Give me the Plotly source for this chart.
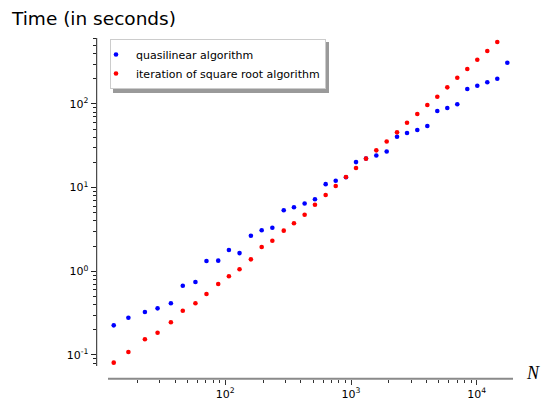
import plotly.graph_objects as go

# Problem size N (shared x values)
n_values = [13, 17, 23, 29, 37, 46, 58, 71, 88, 107, 130, 160, 195, 237, 292, 352,
            428, 517, 629, 756, 912, 1096, 1316, 1589, 1922, 2322, 2788, 3366, 4043,
            4853, 5828, 6998, 8405, 10090, 12120, 14550, 17480]

# Time in seconds
quasilinear_times = [0.226, 0.279, 0.326, 0.361, 0.415, 0.673, 0.745, 1.33, 1.34, 1.80,
                     1.65, 2.66, 3.09, 3.32, 5.36, 5.82, 6.46, 7.25, 11.0, 12.1, 13.3,
                     20.2, 22.3, 24.2, 27.0, 40.6, 45.0, 48.8, 54.5, 82.5, 89.6, 99.1,
                     151, 165, 181.5, 200.5, 311]
sqrt_iter_times = [0.0809, 0.1085, 0.154, 0.1846, 0.2458, 0.338, 0.415, 0.5355, 0.705,
                   0.874, 1.06, 1.39, 1.95, 2.32, 3.06, 3.75, 4.75, 6.25, 8.16, 10.46,
                   13.4, 17.2, 22.2, 27.9, 35.6, 45.8, 59.7, 75.9, 97.2, 122, 158, 206,
                   262, 337, 430, 550]

series_names = ["quasilinear algorithm", "iteration of square root algorithm"]

x_major = [100, 1000, 10000]
x_major_text = ["10<sup>2</sup>", "10<sup>3</sup>", "10<sup>4</sup>"]
x_minor = [m * d for d in (10, 100, 1000) for m in range(2, 10)]

y_major = [0.1, 1, 10, 100]
y_major_text = ["10<sup>-1</sup>", "10<sup>0</sup>", "10<sup>1</sup>", "10<sup>2</sup>"]
y_minor = [0.08, 0.09] + [m * d for d in (0.1, 1, 10) for m in range(2, 10)] + [200, 300, 400, 500, 600]

W, H = 547, 402
FONT = "DejaVu Sans"

# plot area (pixels)
PL, PR, PT, PB = 96.7, 513.0, 38.0, 378.7
XL_START = 108.0   # x-axis line starts here
YL_END = 366.0     # y-axis line ends here

fig = go.Figure()
fig.add_trace(go.Scatter(x=n_values, y=quasilinear_times, mode="markers",
                         name=series_names[0], cliponaxis=False,
                         marker=dict(color="#0000ff", size=4.6)))
fig.add_trace(go.Scatter(x=n_values[:len(sqrt_iter_times)], y=sqrt_iter_times,
                         mode="markers", name=series_names[1], cliponaxis=False,
                         marker=dict(color="#ff0000", size=4.6)))

LEG_L, LEG_T, LEG_W, LEG_H = 110, 39, 216, 51

fig.update_layout(
    width=W, height=H, autosize=False,
    margin=dict(l=0, r=0, t=0, b=0),
    paper_bgcolor="white", plot_bgcolor="white",
    font=dict(family=FONT, size=11, color="black"),
    title=dict(text="Time (in seconds)", x=12 / W, xanchor="left", xref="paper",
               y=1 - 19 / H, yanchor="middle", yref="container",
               font=dict(family=FONT, size=18.5, color="black")),
    xaxis=dict(type="log", range=[0.9785, 4.2878], domain=[PL / W, PR / W],
               showline=False, showgrid=False, zeroline=False, automargin=False,
               tickmode="array", tickvals=x_major, ticktext=x_major_text,
               ticks="outside", ticklen=5, tickwidth=1, tickcolor="#333333",
               tickfont=dict(family=FONT, size=11, color="black"),
               minor=dict(tickmode="array", tickvals=x_minor, ticks="outside",
                          ticklen=3, tickwidth=1, tickcolor="#333333", showgrid=False)),
    yaxis=dict(type="log", range=[-1.2836, 2.7884], domain=[1 - PB / H, 1 - PT / H],
               showline=False, showgrid=False, zeroline=False, automargin=False,
               tickmode="array", tickvals=y_major, ticktext=y_major_text,
               ticks="outside", ticklen=5, tickwidth=1, tickcolor="#222222",
               tickfont=dict(family=FONT, size=11, color="black"),
               minor=dict(tickmode="array", tickvals=y_minor, ticks="outside",
                          ticklen=3, tickwidth=1, tickcolor="#222222", showgrid=False)),
    legend=dict(x=LEG_L / W, y=1 - LEG_T / H, xanchor="left", yanchor="top",
                bgcolor="white", bordercolor="#cccccc", borderwidth=1,
                font=dict(family=FONT, size=11, color="black"),
                indentation=-15, itemwidth=30, tracegroupgap=0),
    annotations=[dict(text="<i>N</i>", x=533 / W, y=1 - 373 / H, xref="paper", yref="paper",
                      showarrow=False, xanchor="center", yanchor="middle",
                      font=dict(family="Liberation Serif", size=18, color="black"))],
    shapes=[
        # x-axis line (gray, thicker), starting right of the y-axis
        dict(type="line", xref="paper", yref="paper",
             x0=XL_START / W, x1=PR / W, y0=1 - PB / H, y1=1 - PB / H,
             line=dict(color="#8a8a8a", width=2), layer="above"),
        # y-axis line, ending above the x-axis
        dict(type="line", xref="paper", yref="paper",
             x0=PL / W, x1=PL / W, y0=1 - YL_END / H, y1=1 - PT / H,
             line=dict(color="#222222", width=1), layer="above"),
        # legend drop shadow
        dict(type="rect", xref="paper", yref="paper",
             x0=(LEG_L + 3) / W, x1=(LEG_L + LEG_W + 3) / W,
             y0=1 - (LEG_T + LEG_H + 3) / H, y1=1 - (LEG_T + 3) / H,
             fillcolor="#9a9a9a", line=dict(width=0), layer="above"),
    ],
)

fig.write_html("out.html", config={"displayModeBar": False},
               post_script="document.body.style.margin='0px';")
